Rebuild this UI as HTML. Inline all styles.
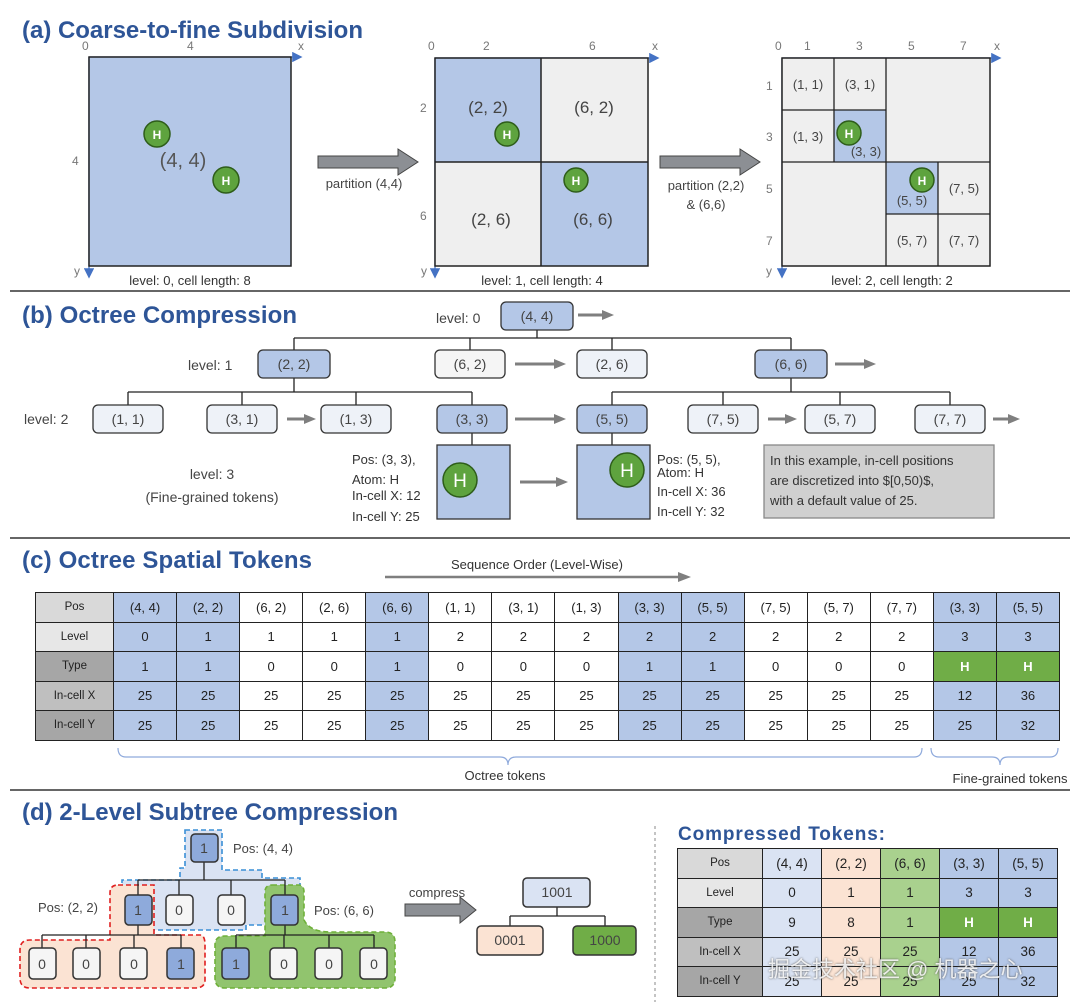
<!DOCTYPE html>
<html><head><meta charset="utf-8">
<style>
body{margin:0;width:1080px;height:1006px;background:#fff;position:relative;overflow:hidden;font-family:"Liberation Sans",sans-serif}
svg{position:absolute;left:0;top:0}
table{position:absolute;border-collapse:collapse;table-layout:fixed;font-family:"Liberation Sans",sans-serif;font-size:13px;color:#222}
td{border:1.3px solid #222;text-align:center;padding:0;overflow:hidden;white-space:nowrap}
.b{background:#b4c7e7}.w{background:#fff}.g{background:#70ad47;color:#fff;font-weight:bold}
.h1{background:#d9d9d9}.h2{background:#e7e7e7}.h3{background:#a6a6a6}.h4{background:#bfbfbf}
#tc td{height:28.5px}
#tc td:first-child{font-size:11.5px}
#td td{height:28.5px;font-size:13.5px}
#td td:first-child{font-size:11.5px}
</style></head><body>
<svg width="1080" height="1006" font-family="Liberation Sans, sans-serif">
<defs>
<marker id="ba" markerWidth="8" markerHeight="8" refX="6" refY="4" orient="auto"><path d="M0,0 L8,4 L0,8z" fill="#4472c4"/></marker>
</defs>
<g font-weight="bold" fill="#2e5597">
<text x="22" y="38" font-size="24" textLength="341">(a) Coarse-to-fine Subdivision</text>
<text x="22" y="323" font-size="24" textLength="275">(b) Octree Compression</text>
<text x="22" y="568" font-size="24" textLength="290">(c) Octree Spatial Tokens</text>
<text x="22" y="820" font-size="24" textLength="376">(d) 2-Level Subtree Compression</text>
<text x="678" y="840" font-size="19" textLength="207">Compressed Tokens:</text>
</g>
<line x1="10" y1="291" x2="1070" y2="291" stroke="#333" stroke-width="1.5"/>
<line x1="10" y1="538" x2="1070" y2="538" stroke="#333" stroke-width="1.5"/>
<line x1="10" y1="790" x2="1070" y2="790" stroke="#333" stroke-width="1.5"/>
<line x1="655" y1="826" x2="655" y2="1002" stroke="#888" stroke-dasharray="3,3"/>

<g font-size="12" fill="#777">
<text x="82" y="50">0</text><text x="187" y="50">4</text><text x="298" y="50">x</text>
<text x="72" y="165">4</text><text x="74" y="275">y</text>
<text x="428" y="50">0</text><text x="483" y="50">2</text><text x="589" y="50">6</text><text x="652" y="50">x</text>
<text x="420" y="112">2</text><text x="420" y="220">6</text><text x="421" y="275">y</text>
<text x="775" y="50">0</text><text x="804" y="50">1</text><text x="856" y="50">3</text><text x="908" y="50">5</text><text x="960" y="50">7</text><text x="994" y="50">x</text>
<text x="766" y="90">1</text><text x="766" y="141">3</text><text x="766" y="193">5</text><text x="766" y="245">7</text><text x="766" y="275">y</text>
</g>
<g stroke="#4472c4" stroke-width="1.3" fill="none">
<line x1="89" y1="57" x2="300" y2="57" marker-end="url(#ba)"/><line x1="89" y1="57" x2="89" y2="276" marker-end="url(#ba)"/>
<line x1="435" y1="58" x2="657" y2="58" marker-end="url(#ba)"/><line x1="435" y1="58" x2="435" y2="276" marker-end="url(#ba)"/>
<line x1="782" y1="58" x2="999" y2="58" marker-end="url(#ba)"/><line x1="782" y1="58" x2="782" y2="276" marker-end="url(#ba)"/>
</g>
<rect x="89" y="57" width="202" height="209" fill="#b4c7e7" stroke="#222" stroke-width="1.5"/>
<text x="183" y="167" font-size="20" fill="#555" text-anchor="middle">(4, 4)</text>
<text x="190" y="285" font-size="13" fill="#333" text-anchor="middle">level: 0, cell length: 8</text>
<rect x="435" y="58" width="106" height="104" fill="#b4c7e7"/>
<rect x="541" y="58" width="107" height="104" fill="#efefef"/>
<rect x="435" y="162" width="106" height="104" fill="#efefef"/>
<rect x="541" y="162" width="107" height="104" fill="#b4c7e7"/>
<rect x="435" y="58" width="213" height="208" fill="none" stroke="#222" stroke-width="1.5"/>
<line x1="541" y1="58" x2="541" y2="266" stroke="#222" stroke-width="1.5"/><line x1="435" y1="162" x2="648" y2="162" stroke="#222" stroke-width="1.5"/>
<g font-size="17" fill="#444" text-anchor="middle">
<text x="488" y="113">(2, 2)</text><text x="594" y="113">(6, 2)</text><text x="491" y="225">(2, 6)</text><text x="593" y="225">(6, 6)</text>
</g>
<text x="542" y="285" font-size="13" fill="#333" text-anchor="middle">level: 1, cell length: 4</text>
<rect x="782" y="58" width="208" height="208" fill="#efefef" stroke="#222" stroke-width="1.5"/>
<rect x="834" y="110" width="52" height="52" fill="#b4c7e7"/>
<rect x="886" y="162" width="52" height="52" fill="#b4c7e7"/>
<g stroke="#222" stroke-width="1.3">
<line x1="886" y1="58" x2="886" y2="266"/><line x1="782" y1="162" x2="990" y2="162"/>
<line x1="834" y1="58" x2="834" y2="162"/><line x1="782" y1="110" x2="886" y2="110"/>
<line x1="938" y1="162" x2="938" y2="266"/><line x1="886" y1="214" x2="990" y2="214"/>
</g>
<g font-size="13" fill="#444" text-anchor="middle">
<text x="808" y="89">(1, 1)</text><text x="860" y="89">(3, 1)</text><text x="808" y="141">(1, 3)</text><text x="866" y="156">(3, 3)</text>
<text x="912" y="205">(5, 5)</text><text x="964" y="193">(7, 5)</text><text x="912" y="245">(5, 7)</text><text x="964" y="245">(7, 7)</text>
</g>
<text x="892" y="285" font-size="13" fill="#333" text-anchor="middle">level: 2, cell length: 2</text>
<g fill="#8c8f94" stroke="#444" stroke-width="1">
<path d="M318,156 H398 V149 L418,162 L398,175 V168 H318z"/>
<path d="M660,156 H740 V149 L760,162 L740,175 V168 H660z"/>
<path d="M405,904 H460 V897 L476,910 L460,923 V916 H405z"/>
</g>
<text x="364" y="188" font-size="13" fill="#444" text-anchor="middle">partition (4,4)</text>
<text x="706" y="190" font-size="13" fill="#444" text-anchor="middle">partition (2,2)</text>
<text x="706" y="209" font-size="13" fill="#444" text-anchor="middle">&amp; (6,6)</text>
<text x="437" y="897" font-size="13" fill="#444" text-anchor="middle">compress</text>

<g stroke="#222" stroke-width="1.3" fill="none">
<path d="M537,330 V338 M294,338 H791 M294,338 V350 M470,338 V350 M612,338 V350 M791,338 V350"/>
<path d="M294,378 V392 M128,392 H472 M128,392 V405 M242,392 V405 M356,392 V405 M472,392 V405"/>
<path d="M791,378 V392 M612,392 H950 M612,392 V405 M723,392 V405 M840,392 V405 M950,392 V405"/>
<path d="M472,433 V445 M612,433 V445"/>
</g>
<g stroke="#7f7f7f" stroke-width="3" fill="#7f7f7f">
<line x1="578" y1="315" x2="604" y2="315"/><path d="M602,310 L614,315 L602,320z" stroke="none"/>
<line x1="515" y1="364" x2="556" y2="364"/><path d="M554,359 L566,364 L554,369z" stroke="none"/>
<line x1="835" y1="364" x2="866" y2="364"/><path d="M864,359 L876,364 L864,369z" stroke="none"/>
<line x1="287" y1="419" x2="306" y2="419"/><path d="M304,414 L316,419 L304,424z" stroke="none"/>
<line x1="515" y1="419" x2="556" y2="419"/><path d="M554,414 L566,419 L554,424z" stroke="none"/>
<line x1="768" y1="419" x2="787" y2="419"/><path d="M785,414 L797,419 L785,424z" stroke="none"/>
<line x1="993" y1="419" x2="1010" y2="419"/><path d="M1008,414 L1020,419 L1008,424z" stroke="none"/>
<line x1="520" y1="482" x2="558" y2="482"/><path d="M556,477 L568,482 L556,487z" stroke="none"/>
</g>
<g stroke="#333" stroke-width="1.3">
<rect x="501" y="302" width="72" height="28" rx="5" fill="#b4c7e7"/>
<rect x="258" y="350" width="72" height="28" rx="5" fill="#b4c7e7"/>
<rect x="435" y="350" width="70" height="28" rx="5" fill="#f5f5f5"/>
<rect x="577" y="350" width="70" height="28" rx="5" fill="#eef2f8"/>
<rect x="755" y="350" width="72" height="28" rx="5" fill="#b4c7e7"/>
<rect x="93" y="405" width="70" height="28" rx="5" fill="#eef2f8"/>
<rect x="207" y="405" width="70" height="28" rx="5" fill="#eef2f8"/>
<rect x="321" y="405" width="70" height="28" rx="5" fill="#eef2f8"/>
<rect x="437" y="405" width="70" height="28" rx="5" fill="#b4c7e7"/>
<rect x="577" y="405" width="70" height="28" rx="5" fill="#b4c7e7"/>
<rect x="688" y="405" width="70" height="28" rx="5" fill="#eef2f8"/>
<rect x="805" y="405" width="70" height="28" rx="5" fill="#eef2f8"/>
<rect x="915" y="405" width="70" height="28" rx="5" fill="#eef2f8"/>
<rect x="437" y="445" width="73" height="74" fill="#b4c7e7"/>
<rect x="577" y="445" width="73" height="74" fill="#b4c7e7"/>
<rect x="764" y="445" width="230" height="73" fill="#d0d0d0" stroke="#888"/>
</g>
<!-- H atoms -->
<g fill="#5ea33e" stroke="#2e5d1a" stroke-width="1.5">
<circle cx="157" cy="134" r="13"/><circle cx="226" cy="180" r="13"/>
<circle cx="507" cy="134" r="12"/><circle cx="576" cy="180" r="12"/>
<circle cx="849" cy="133" r="12"/><circle cx="922" cy="180" r="12"/>
<circle cx="460" cy="480" r="17"/><circle cx="627" cy="470" r="17"/>
</g>
<g fill="#fff" font-size="12" font-weight="bold" text-anchor="middle">
<text x="157" y="139">H</text><text x="226" y="185">H</text><text x="507" y="139">H</text><text x="576" y="185">H</text>
<text x="849" y="138">H</text><text x="922" y="185">H</text>
<text x="460" y="487" font-size="19" font-weight="normal">H</text><text x="627" y="477" font-size="19" font-weight="normal">H</text>
</g>
<g font-size="14" fill="#444" text-anchor="middle">
<text x="537" y="321">(4, 4)</text><text x="294" y="369">(2, 2)</text><text x="470" y="369">(6, 2)</text><text x="612" y="369">(2, 6)</text><text x="791" y="369">(6, 6)</text>
<text x="128" y="424">(1, 1)</text><text x="242" y="424">(3, 1)</text><text x="356" y="424">(1, 3)</text><text x="472" y="424">(3, 3)</text>
<text x="612" y="424">(5, 5)</text><text x="723" y="424">(7, 5)</text><text x="840" y="424">(5, 7)</text><text x="950" y="424">(7, 7)</text>
<text x="212" y="479">level: 3</text><text x="212" y="502">(Fine-grained tokens)</text>
</g>
<g font-size="14" fill="#444">
<text x="436" y="323">level: 0</text><text x="188" y="370">level: 1</text><text x="24" y="424">level: 2</text>
</g>
<g font-size="13" fill="#333">
<text x="352" y="464">Pos: (3, 3),</text><text x="352" y="484">Atom: H</text><text x="352" y="500">In-cell X: 12</text><text x="352" y="521">In-cell Y: 25</text>
<text x="657" y="464">Pos: (5, 5),</text><text x="657" y="477">Atom: H</text><text x="657" y="496">In-cell X: 36</text><text x="657" y="516">In-cell Y: 32</text>
<text x="770" y="465">In this example, in-cell positions</text>
<text x="770" y="485">are discretized into $[0,50)$,</text>
<text x="770" y="505">with a default value of 25.</text>
</g>

<text x="537" y="569" font-size="13" fill="#333" text-anchor="middle">Sequence Order (Level-Wise)</text>
<line x1="385" y1="577" x2="680" y2="577" stroke="#7f7f7f" stroke-width="2.5"/><path d="M678,572 L691,577 L678,582z" fill="#7f7f7f"/>
<g stroke="#8faadc" fill="none" stroke-width="1.2">
<path d="M118,748 Q118,757 126,757 H500 Q508,757 508,765 Q508,757 516,757 H914 Q922,757 922,748"/>
<path d="M931,748 Q931,757 939,757 H992 Q1000,757 1000,765 Q1000,757 1008,757 H1050 Q1058,757 1058,748"/>
</g>
<text x="505" y="780" font-size="13" fill="#333" text-anchor="middle">Octree tokens</text>
<text x="1010" y="783" font-size="13" fill="#333" text-anchor="middle">Fine-grained tokens</text>

<path d="M185,830 H222 V870 H262 V878 H300 V925 H246 V930 H125 V905 H122 V880 H180 V868 H185 Z" fill="#dae3f3" stroke="#3a8fd6" stroke-width="1.6" stroke-dasharray="5,3"/>
<path d="M118,885 H154 V935 H200 Q205,935 205,945 V980 Q205,988 195,988 H30 Q20,988 20,978 V950 Q20,940 30,940 H110 V893 Q110,885 118,885Z" fill="#fbe3d3" stroke="#e02020" stroke-width="1.6" stroke-dasharray="5,3"/>
<path d="M272,885 H298 Q304,885 304,892 V920 Q310,932 330,932 H385 Q395,932 395,942 V978 Q395,988 385,988 H225 Q215,988 215,978 V945 Q215,936 225,936 H265 V892 Q265,885 272,885Z" fill="#91c46e" stroke="#6fb03a" stroke-width="1.6" stroke-dasharray="5,3"/>
<g stroke="#222" stroke-width="1.3" fill="none">
<path d="M204,862 V880 M138,880 H285 M138,880 V895 M179,880 V895 M231,880 V895 M285,880 V895"/>
<path d="M138,925 V935 M42,935 H181 M42,935 V948 M86,935 V948 M134,935 V948 M181,935 V948"/>
<path d="M285,925 V935 M236,935 H374 M236,935 V948 M284,935 V948 M329,935 V948 M374,935 V948"/>
<path d="M557,907 V916 M510,916 H605 M510,916 V926 M605,916 V926"/>
</g>
<g stroke="#333" stroke-width="1.5">
<rect x="191" y="834" width="27" height="28" rx="4" fill="#8eaadb"/>
<rect x="125" y="895" width="27" height="30" rx="4" fill="#8eaadb"/>
<rect x="166" y="895" width="27" height="30" rx="4" fill="#f5f5f5"/>
<rect x="218" y="895" width="27" height="30" rx="4" fill="#f5f5f5"/>
<rect x="271" y="895" width="27" height="30" rx="4" fill="#8eaadb"/>
<rect x="29" y="948" width="27" height="31" rx="4" fill="#f5f5f5"/>
<rect x="73" y="948" width="27" height="31" rx="4" fill="#f5f5f5"/>
<rect x="120" y="948" width="27" height="31" rx="4" fill="#f5f5f5"/>
<rect x="167" y="948" width="27" height="31" rx="4" fill="#8eaadb"/>
<rect x="222" y="948" width="27" height="31" rx="4" fill="#8eaadb"/>
<rect x="270" y="948" width="27" height="31" rx="4" fill="#f5f5f5"/>
<rect x="315" y="948" width="27" height="31" rx="4" fill="#f5f5f5"/>
<rect x="360" y="948" width="27" height="31" rx="4" fill="#f5f5f5"/>
<rect x="523" y="878" width="67" height="29" rx="4" fill="#dae3f3"/>
<rect x="477" y="926" width="66" height="29" rx="4" fill="#fbe3d3"/>
<rect x="573" y="926" width="63" height="29" rx="4" fill="#70ad47"/>
</g>
<g font-size="14" fill="#444" text-anchor="middle">
<text x="204" y="853">1</text><text x="138" y="915">1</text><text x="179" y="915">0</text><text x="231" y="915">0</text><text x="285" y="915">1</text>
<text x="42" y="969">0</text><text x="86" y="969">0</text><text x="134" y="969">0</text><text x="181" y="969">1</text>
<text x="236" y="969">1</text><text x="284" y="969">0</text><text x="329" y="969">0</text><text x="374" y="969">0</text>
<text x="557" y="897">1001</text><text x="510" y="945">0001</text><text x="605" y="945">1000</text>
</g>
<g font-size="13" fill="#444">
<text x="233" y="853">Pos: (4, 4)</text><text x="38" y="912">Pos: (2, 2)</text><text x="314" y="915">Pos: (6, 6)</text>
</g>
</svg>

<table id="tc" style="left:35px;top:592px;width:1025px">
<colgroup><col style="width:78px"><col span="15"></colgroup>
<tr><td class="h1">Pos</td><td class="b">(4, 4)</td><td class="b">(2, 2)</td><td class="w">(6, 2)</td><td class="w">(2, 6)</td><td class="b">(6, 6)</td><td class="w">(1, 1)</td><td class="w">(3, 1)</td><td class="w">(1, 3)</td><td class="b">(3, 3)</td><td class="b">(5, 5)</td><td class="w">(7, 5)</td><td class="w">(5, 7)</td><td class="w">(7, 7)</td><td class="b">(3, 3)</td><td class="b">(5, 5)</td></tr>
<tr><td class="h2">Level</td><td class="b">0</td><td class="b">1</td><td class="w">1</td><td class="w">1</td><td class="b">1</td><td class="w">2</td><td class="w">2</td><td class="w">2</td><td class="b">2</td><td class="b">2</td><td class="w">2</td><td class="w">2</td><td class="w">2</td><td class="b">3</td><td class="b">3</td></tr>
<tr><td class="h3">Type</td><td class="b">1</td><td class="b">1</td><td class="w">0</td><td class="w">0</td><td class="b">1</td><td class="w">0</td><td class="w">0</td><td class="w">0</td><td class="b">1</td><td class="b">1</td><td class="w">0</td><td class="w">0</td><td class="w">0</td><td class="g">H</td><td class="g">H</td></tr>
<tr><td class="h4">In-cell X</td><td class="b">25</td><td class="b">25</td><td class="w">25</td><td class="w">25</td><td class="b">25</td><td class="w">25</td><td class="w">25</td><td class="w">25</td><td class="b">25</td><td class="b">25</td><td class="w">25</td><td class="w">25</td><td class="w">25</td><td class="b">12</td><td class="b">36</td></tr>
<tr><td class="h3">In-cell Y</td><td class="b">25</td><td class="b">25</td><td class="w">25</td><td class="w">25</td><td class="b">25</td><td class="w">25</td><td class="w">25</td><td class="w">25</td><td class="b">25</td><td class="b">25</td><td class="w">25</td><td class="w">25</td><td class="w">25</td><td class="b">25</td><td class="b">32</td></tr>
</table>

<table id="td" style="left:677px;top:848px;width:381px">
<colgroup><col style="width:85px"><col span="5"></colgroup>
<tr><td class="h1">Pos</td><td style="background:#dae3f3">(4, 4)</td><td style="background:#fbe3d3">(2, 2)</td><td style="background:#a9d18e">(6, 6)</td><td class="b">(3, 3)</td><td class="b">(5, 5)</td></tr>
<tr><td class="h2">Level</td><td style="background:#dae3f3">0</td><td style="background:#fbe3d3">1</td><td style="background:#a9d18e">1</td><td class="b">3</td><td class="b">3</td></tr>
<tr><td class="h3">Type</td><td style="background:#dae3f3">9</td><td style="background:#fbe3d3">8</td><td style="background:#a9d18e">1</td><td class="g">H</td><td class="g">H</td></tr>
<tr><td class="h4">In-cell X</td><td style="background:#dae3f3">25</td><td style="background:#fbe3d3">25</td><td style="background:#a9d18e">25</td><td class="b">12</td><td class="b">36</td></tr>
<tr><td class="h3">In-cell Y</td><td style="background:#dae3f3">25</td><td style="background:#fbe3d3">25</td><td style="background:#a9d18e">25</td><td class="b">25</td><td class="b">32</td></tr>
</table>
<div style="position:absolute;left:768px;top:952px;font-family:'Liberation Sans','Noto Sans CJK SC',sans-serif;font-size:22px;color:rgba(255,255,255,0.85);text-shadow:0 0 2px #555">掘金技术社区 @ 机器之心</div>
</body></html>
